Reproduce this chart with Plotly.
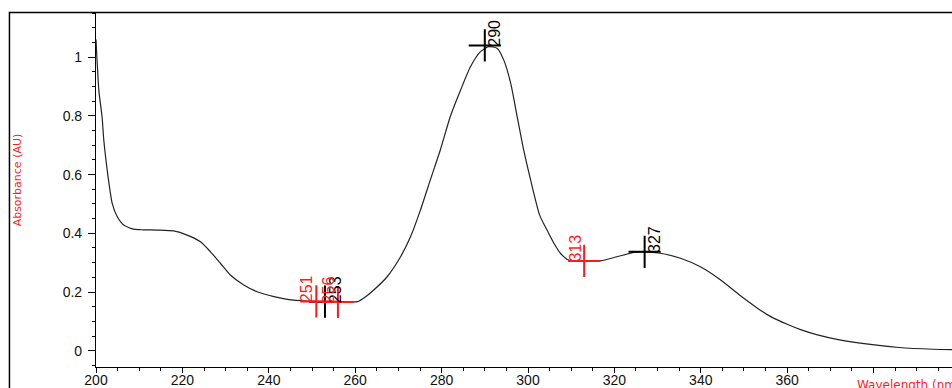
import plotly.graph_objects as go

# UV absorbance spectrum
wavelength = [200.0, 200.2, 200.3, 200.65, 201.4, 201.8, 202.4, 203.0, 203.75, 204.9,
              206.4, 208.75, 211.0, 214.2, 218.0, 221.1, 224.2, 226.5, 228.8, 231.1,
              234.2, 237.3, 241.2, 244.3, 249.0, 253.0, 256.0, 258.5, 260.5, 262.5,
              264.3, 267.4, 270.5, 272.8, 275.1, 277.4, 279.7, 282.0, 284.4, 286.7,
              289.0, 290.9, 292.9, 294.4, 296.0, 297.5, 299.0, 300.6, 302.7, 304.4,
              306.0, 307.5, 309.4, 312.9, 316.8, 320.6, 324.5, 326.8, 330.7, 335.3,
              339.9, 344.6, 349.2, 353.1, 356.1, 360.0, 363.1, 366.8, 372.1, 378.3,
              385.9, 393.8, 400.0]
absorbance = [1.060, 1.000, 0.975, 0.888, 0.797, 0.718, 0.638, 0.570, 0.502, 0.457,
              0.428, 0.414, 0.412, 0.411, 0.408, 0.394, 0.371, 0.337, 0.298, 0.258,
              0.224, 0.201, 0.184, 0.175, 0.169, 0.167, 0.166, 0.166, 0.167, 0.185,
              0.207, 0.252, 0.320, 0.388, 0.479, 0.582, 0.684, 0.797, 0.888, 0.968,
              1.019, 1.036, 1.030, 0.990, 0.911, 0.797, 0.684, 0.582, 0.462, 0.411,
              0.366, 0.332, 0.309, 0.306, 0.306, 0.320, 0.335, 0.337, 0.332, 0.315,
              0.286, 0.241, 0.187, 0.145, 0.117, 0.090, 0.072, 0.055, 0.037, 0.023,
              0.011, 0.005, 0.003]

# Peak maxima (black) and minima (red) markers
max_nm = [253, 290, 327]
max_abs = [0.167, 1.040, 0.337]
min_nm = [251, 256, 313]
min_abs = [0.168, 0.166, 0.306]

x_tick_vals = [200, 220, 240, 260, 280, 300, 320, 340, 360, 380]
x_tick_text = ["200", "220", "240", "260", "280", "300", "320", "340", "360", ""]
y_tick_vals = [0, 0.2, 0.4, 0.6, 0.8, 1.0]
y_tick_text = ["0", "0.2", "0.4", "0.6", "0.8", "1"]

RED = "#ff1a1a"
TICK_FONT = dict(family="Liberation Sans, Arial, sans-serif", size=14, color="#111")
TITLE_FAMILY = "DejaVu Sans, Verdana, sans-serif"

fig = go.Figure()

fig.add_trace(go.Scatter(
    x=wavelength, y=absorbance, mode="lines",
    line=dict(color="#222", width=1.2, shape="spline", smoothing=0.6),
    hoverinfo="skip", showlegend=False,
))

fig.add_trace(go.Scatter(
    x=max_nm, y=max_abs, mode="markers",
    marker=dict(symbol="cross-thin", size=23, line=dict(color="black", width=2)),
    showlegend=False,
))
fig.add_trace(go.Scatter(
    x=min_nm, y=min_abs, mode="markers",
    marker=dict(symbol="cross-thin", size=23, line=dict(color=RED, width=2)),
    showlegend=False,
))

annotations = []
for nm, a in zip(max_nm, max_abs):
    annotations.append(dict(
        x=nm, y=a, text=str(nm), showarrow=False, textangle=-90,
        xanchor="center", yanchor="bottom", xshift=10, yshift=-3,
        font=dict(family="Liberation Sans, Arial, sans-serif", size=16, color="black"),
    ))
for nm, a in zip(min_nm, min_abs):
    annotations.append(dict(
        x=nm, y=a, text=str(nm), showarrow=False, textangle=-90,
        xanchor="center", yanchor="bottom", xshift=-9, yshift=-3,
        font=dict(family="Liberation Sans, Arial, sans-serif", size=16, color=RED),
    ))

annotations.append(dict(
    xref="paper", yref="paper", x=-0.0923, y=0.53, text="Absorbance (AU)",
    showarrow=False, textangle=-90, xanchor="center", yanchor="middle",
    font=dict(family=TITLE_FAMILY, size=11, color=RED),
))
annotations.append(dict(
    xref="paper", yref="paper", x=0.887, y=-0.025, text="Wavelength (nm)",
    showarrow=False, xanchor="left", yanchor="top",
    font=dict(family=TITLE_FAMILY, size=12, color=RED),
))

fig.update_layout(
    width=952, height=388,
    margin=dict(l=96, r=0, t=13, b=21, autoexpand=False),
    paper_bgcolor="white", plot_bgcolor="white",
    annotations=annotations,
    shapes=[dict(
        type="rect", xref="paper", yref="paper",
        x0=-0.1011, x1=1.5, y0=-0.5, y1=1.0014,
        line=dict(color="black", width=1.5), layer="above",
    )],
    xaxis=dict(
        range=[200, 398.15], showgrid=False, zeroline=False, automargin=False,
        showline=True, linecolor="black", linewidth=1.2,
        tickmode="array", tickvals=x_tick_vals, ticktext=x_tick_text,
        ticks="outside", ticklen=5, tickcolor="black", tickwidth=1,
        tickfont=TICK_FONT, ticklabelstandoff=-5,
        minor=dict(tickmode="linear", tick0=200, dtick=5, ticks="outside",
                   ticklen=3, tickcolor="black", showgrid=False),
    ),
    yaxis=dict(
        range=[-0.0555, 1.1506], showgrid=False, zeroline=False, automargin=False,
        showline=True, linecolor="black", linewidth=1.2,
        tickmode="array", tickvals=y_tick_vals, ticktext=y_tick_text,
        ticks="outside", ticklen=7, tickcolor="black", tickwidth=1,
        tickfont=TICK_FONT, ticklabelstandoff=3,
        minor=dict(tickmode="linear", tick0=0, dtick=0.05, ticks="outside",
                   ticklen=3, tickcolor="black", showgrid=False),
    ),
)

fig.write_html("out.html")
